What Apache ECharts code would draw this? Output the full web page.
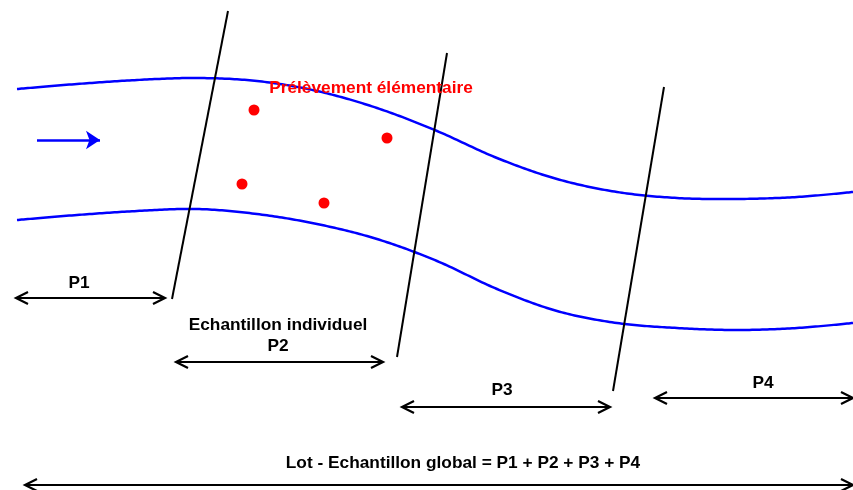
<!DOCTYPE html>
<html>
<head>
<meta charset="utf-8">
<script src="https://cdn.jsdelivr.net/npm/echarts@6/dist/echarts.min.js"></script>
<style>
  html, body { margin: 0; padding: 0; background: #ffffff; }
  #chart { width: 853px; height: 490px; }
</style>
</head>
<body>
<div id="chart"></div>
<script>
// Diagram data (x, y in the drawing's own coordinate frame: 0..853 across, 0..490 down)
const upperBank = [[17,89],[77,84],[137,80],[197,78],[257,81],[317,91],[377,108],[437,131],[497,158],[557,179],[617,192],[677,198],[737,199],[797,197],[853,192]];
const lowerBank = [[17,220],[77,215],[137,211],[197,209],[257,214],[317,224],[377,239],[437,261],[497,289],[557,311],[617,323],[677,328],[737,330],[797,328],[853,323]];
const cutLines = [[[228,11],[172,299]], [[447,53],[397,357]], [[664,87],[613,391]]];
const samplePoints = [[254,110],[387,138],[242,184],[324,203]];
const flowArrow = [[37,140],[100,140]];
const spanStart = [16, 176, 402, 655, 25];
const spanEnd   = [165, 383, 610, 853, 853];
const spanY     = [298, 362, 407, 398, 485];
const labelTexts = ['P1', 'Echantillon individuel', 'P2', 'P3', 'P4', 'Lot - Echantillon global = P1 + P2 + P3 + P4'];
const labelPos   = [[79,283],[278,325],[278,346],[502,390],[763,383],[463,463]];
const sampleLabel = 'Prélèvement élémentaire';
const sampleLabelPos = [371,88];

const HEAD_LEN = 12, HEAD_HALF = 6;
const spanLines = [];
for (let i = 0; i < spanStart.length; i++) {
  const a = spanStart[i], b = spanEnd[i], y = spanY[i];
  spanLines.push({ coords: [[a, y], [b, y]] });
  spanLines.push({ coords: [[a + HEAD_LEN, y - HEAD_HALF], [a, y], [a + HEAD_LEN, y + HEAD_HALF]] });
  spanLines.push({ coords: [[b - HEAD_LEN, y - HEAD_HALF], [b, y], [b - HEAD_LEN, y + HEAD_HALF]] });
}

// Catmull-Rom rendering of a bank through its points (in pixel space)
function catmullRom(pts, steps) {
  const out = [];
  for (let i = 0; i < pts.length - 1; i++) {
    const p0 = pts[Math.max(i - 1, 0)], p1 = pts[i], p2 = pts[i + 1], p3 = pts[Math.min(i + 2, pts.length - 1)];
    for (let s = 0; s < steps; s++) {
      const t = s / steps, t2 = t * t, t3 = t2 * t;
      const f = (a, b, c, d) => 0.5 * ((2 * b) + (-a + c) * t + (2 * a - 5 * b + 4 * c - d) * t2 + (-a + 3 * b - 3 * c + d) * t3);
      out.push([f(p0[0], p1[0], p2[0], p3[0]), f(p0[1], p1[1], p2[1], p3[1])]);
    }
  }
  out.push(pts[pts.length - 1]);
  return out;
}
function bankSeries(points) {
  return {
    type: 'custom', coordinateSystem: 'cartesian2d', data: [0], silent: true,
    renderItem: function (params, api) {
      const px = points.map(p => api.coord(p));
      return { type: 'polyline', shape: { points: catmullRom(px, 24) },
               style: { stroke: '#0000ff', lineWidth: 2.5, fill: null } };
    }
  };
}

const fontFamily = '"Liberation Sans", Arial, sans-serif';
const textLabel = (color) => ({
  show: true, position: 'inside', formatter: '{b}', color: color, opacity: 1,
  fontFamily: fontFamily, fontWeight: 'bold', fontSize: 17.3, align: 'center', verticalAlign: 'middle'
});
const chart = echarts.init(document.getElementById('chart'), null, { renderer: 'canvas' });
chart.setOption({
  backgroundColor: '#ffffff',
  animation: false,
  grid: { left: 0, right: 0, top: 0, bottom: 0 },
  xAxis: { type: 'value', min: 0, max: 853, show: false },
  yAxis: { type: 'value', min: 0, max: 490, inverse: true, show: false },
  series: [
    bankSeries(upperBank),
    bankSeries(lowerBank),
    { type: 'lines', coordinateSystem: 'cartesian2d', polyline: true,
      data: cutLines.map(c => ({ coords: c })),
      lineStyle: { color: '#000000', width: 2, opacity: 1 } },
    { type: 'lines', coordinateSystem: 'cartesian2d', polyline: true,
      data: spanLines,
      lineStyle: { color: '#000000', width: 2.2, opacity: 1, join: 'miter' } },
    { type: 'lines', coordinateSystem: 'cartesian2d',
      data: [{ coords: flowArrow }],
      symbol: ['none', 'arrow'], symbolSize: 14,
      lineStyle: { color: '#0000ff', width: 2.5, opacity: 1 } },
    { type: 'scatter', data: samplePoints, symbol: 'circle', symbolSize: 11,
      itemStyle: { color: '#ff0000', opacity: 1 } },
    { type: 'scatter', symbolSize: 1, itemStyle: { color: 'rgba(0,0,0,0)', opacity: 1 },
      data: labelTexts.map((t, i) => ({ name: t, value: labelPos[i] })),
      label: textLabel('#000000') },
    { type: 'scatter', symbolSize: 1, itemStyle: { color: 'rgba(0,0,0,0)', opacity: 1 },
      data: [{ name: sampleLabel, value: sampleLabelPos }],
      label: textLabel('#ff0000') }
  ]
});
</script>
</body>
</html>
